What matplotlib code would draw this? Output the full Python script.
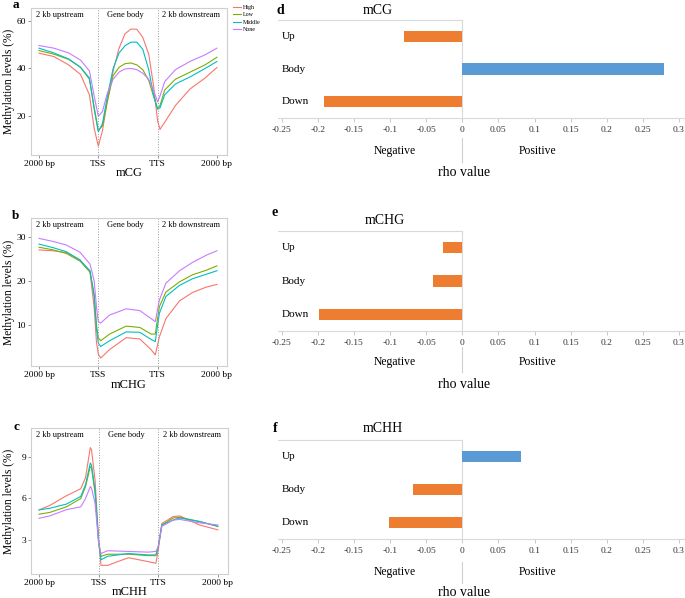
import matplotlib
matplotlib.use('Agg')
import matplotlib.pyplot as plt
import matplotlib.transforms as mtransforms
from matplotlib.lines import Line2D

plt.rcParams['font.family'] = ['Liberation Serif', 'DejaVu Serif']

W, H = 685, 598

# ---- methylation profiles (x: 0 = 2 kb upstream, 100 = TSS, 200 = TTS, 300 = 2 kb downstream)
groups = ['High', 'Low', 'Middle', 'None']
group_colors = ['#F8766D', '#7CAE00', '#00BFC4', '#C77CFF']
region_ticks = [0, 100, 200, 300]
region_labels = ['2000 bp', 'TSS', 'TTS', '2000 bp']
section_names = ['2 kb upstream', 'Gene body', '2 kb downstream']
section_pos = [35, 146, 256]

cg_pos = [0, 25, 50, 70, 85, 93, 100, 107, 115, 125, 135, 145, 155, 165, 175, 185, 193, 200, 204, 212, 230, 255, 280, 300]
cg_high = [46.4, 45.0, 41.5, 37.5, 29.0, 15.0, 7.5, 14.0, 26.0, 39.0, 48.5, 54.5, 56.5, 56.4, 53.0, 46.0, 33.0, 18.0, 14.5, 17.5, 24.5, 31.5, 36.0, 40.4]
cg_low = [47.5, 46.0, 43.8, 40.5, 35.5, 24.0, 14.0, 16.0, 26.0, 37.0, 40.5, 42.0, 42.3, 41.5, 39.5, 35.0, 28.5, 23.0, 24.5, 31.0, 35.5, 38.5, 41.5, 44.7]
cg_middle = [48.5, 46.5, 44.0, 40.5, 36.0, 23.0, 13.5, 17.0, 28.0, 40.0, 46.5, 49.5, 51.0, 51.0, 48.0, 39.5, 29.0, 23.0, 23.5, 29.0, 33.5, 36.5, 40.0, 42.9]
cg_none = [49.6, 48.5, 46.5, 43.5, 39.0, 28.5, 20.0, 22.0, 29.5, 35.5, 38.5, 39.8, 40.0, 39.5, 38.0, 35.5, 31.0, 26.0, 28.5, 34.5, 39.5, 43.0, 45.7, 48.5]

chg_pos = [0, 24, 46, 69, 86, 93, 97, 100, 104, 119, 147, 170, 189, 196, 203, 214, 237, 259, 282, 300]
chg_high = [27.0, 26.8, 26.4, 24.8, 22.0, 14.0, 6.0, 3.5, 2.6, 4.5, 7.2, 6.9, 4.5, 3.3, 7.4, 11.5, 15.5, 17.4, 18.6, 19.2]
chg_low = [27.6, 27.0, 26.2, 24.5, 22.0, 17.0, 10.0, 7.2, 6.5, 8.0, 9.8, 9.5, 8.0, 8.0, 14.2, 17.5, 19.8, 21.4, 22.4, 23.4]
chg_middle = [28.3, 27.5, 26.6, 24.7, 22.3, 16.5, 9.0, 6.0, 5.2, 6.5, 8.5, 8.4, 6.8, 6.3, 12.7, 16.5, 19.0, 20.5, 21.5, 22.3]
chg_none = [29.6, 28.9, 28.1, 26.5, 23.8, 20.0, 14.0, 10.8, 10.5, 12.3, 13.7, 13.3, 11.5, 10.8, 15.7, 19.5, 22.3, 24.2, 25.8, 26.8]

chh_pos = [0, 18, 46, 70, 78, 86, 88, 94, 100, 104, 115, 150, 183, 196, 200, 206, 225, 236, 269, 300]
chh_high = [5.18, 5.5, 6.2, 6.7, 7.5, 9.65, 9.5, 7.3, 3.0, 1.2, 1.2, 1.75, 1.47, 1.35, 2.3, 4.2, 4.7, 4.75, 4.1, 3.75]
chh_low = [4.87, 5.0, 5.4, 6.0, 6.85, 8.3, 8.2, 6.4, 2.9, 1.85, 2.0, 2.0, 1.9, 1.9, 2.55, 4.1, 4.6, 4.65, 4.35, 4.0]
chh_middle = [5.18, 5.3, 5.6, 6.15, 7.0, 8.55, 8.4, 6.6, 2.8, 1.6, 1.85, 2.05, 1.95, 1.95, 2.55, 4.1, 4.45, 4.6, 4.35, 4.0]
chh_none = [4.58, 4.75, 5.2, 5.4, 6.0, 6.85, 6.75, 5.65, 2.8, 2.05, 2.25, 2.2, 2.15, 2.2, 2.55, 4.0, 4.45, 4.5, 4.25, 4.1]

# ---- rho values
categories = ['Up', 'Body', 'Down']
rho_cg = [-0.080, 0.279, -0.191]
rho_chg = [-0.027, -0.041, -0.198]
rho_chh = [0.081, -0.068, -0.101]
rho_ticks = [-0.25, -0.2, -0.15, -0.1, -0.05, 0, 0.05, 0.1, 0.15, 0.2, 0.25, 0.3]

POS_COLOR = '#5B9BD5'
NEG_COLOR = '#ED7D31'


def px_box(left, top, right, bottom):
    return [left / W, 1 - bottom / H, (right - left) / W, (bottom - top) / H]


def fx(x):
    return x / W


def fy(y):
    return 1 - y / H


fig = plt.figure(figsize=(W / 100, H / 100), dpi=100)


def draw_profile(box, pos, series, ylim, yticks, xlabel, letter, letter_y, xlabel_y):
    ax = fig.add_axes(px_box(*box))
    for vals, c, g in zip(series, group_colors, groups):
        ax.plot(pos, vals, color=c, lw=0.8, label=g)
    for v in (100, 200):
        ax.axvline(v, color='#9a9a9a', ls=':', lw=0.7)
    ax.set_xlim(-13.5, 317)
    ax.set_ylim(*ylim)
    ax.set_xticks(region_ticks, region_labels)
    ax.set_yticks(yticks, [str(t) for t in yticks])
    ax.tick_params(labelsize=6.8, length=2.5, width=0.5, color='#666666', pad=1.0)
    for s in ax.spines.values():
        s.set_color('#cfcfcf')
        s.set_linewidth(0.8)
    for x, t in zip(section_pos, section_names):
        ax.text(x, 0.953, t, transform=ax.get_xaxis_transform(), ha='center', va='center', fontsize=6)
    cy = (box[1] + box[3]) / 2
    fig.text(fx(9.5), fy(cy), 'Methylation levels (%)', rotation=90, ha='center', va='center', fontsize=8.3)
    fig.text(fx((box[0] + box[2]) / 2), fy(xlabel_y), xlabel, ha='center', va='center', fontsize=9)
    fig.text(fx(16), fy(letter_y), letter, ha='center', va='center', fontsize=9.5, fontweight='bold')
    return ax


ax_a = draw_profile((31, 8, 227, 155), cg_pos, [cg_high, cg_low, cg_middle, cg_none],
                    (3.8, 65.3), [20, 40, 60], 'mCG', 'a', 5, 173)
draw_profile((31, 218, 227, 366), chg_pos, [chg_high, chg_low, chg_middle, chg_none],
             (0.8, 34.2), [10, 20, 30], 'mCHG', 'b', 216, 385)
draw_profile((31, 428, 228, 574), chh_pos, [chh_high, chh_low, chh_middle, chh_none],
             (0.58, 11.06), [3, 6, 9], 'mCHH', 'c', 427, 592)

ax_a.legend(loc='upper left', bbox_to_anchor=(fx(233), fy(5)), bbox_transform=fig.transFigure,
            fontsize=4.3, frameon=False, handlelength=1.4, handletextpad=0.2,
            labelspacing=0.35, borderpad=0, borderaxespad=0)

XMIN, XMAX = -0.2551, 0.3083


def draw_rho(box, values, title, title_xy, letter, letter_xy, negpos_y, rho_y, sep):
    ax = fig.add_axes(px_box(*box))
    ypos = list(range(len(categories)))[::-1]
    colors = [POS_COLOR if v > 0 else NEG_COLOR for v in values]
    ax.barh(ypos, values, height=0.34, color=colors, zorder=3)
    ax.set_xlim(XMIN, XMAX)
    ax.set_ylim(-0.5, len(categories) - 0.5)
    ax.set_xticks(rho_ticks, ['%g' % t for t in rho_ticks])
    ax.set_yticks([])
    ax.axvline(0, color='#d9d9d9', lw=0.8, zorder=2)
    for side in ('left', 'right'):
        ax.spines[side].set_visible(False)
    ax.spines['top'].set_bounds(XMIN, 0)
    for side in ('top', 'bottom'):
        ax.spines[side].set_color('#d9d9d9')
        ax.spines[side].set_linewidth(0.8)
    ax.tick_params(axis='x', length=3, width=0.6, color='#bfbfbf', labelsize=6.8, pad=2.5,
                   labelcolor='#333333')
    for y, c in zip(ypos, categories):
        ax.text(0.01, y, c, transform=ax.get_yaxis_transform(), ha='left', va='center', fontsize=8)
    fig.text(fx(title_xy[0]), fy(title_xy[1]), title, ha='center', va='center', fontsize=10)
    fig.text(fx(letter_xy[0]), fy(letter_xy[1]), letter, ha='center', va='center', fontsize=10,
             fontweight='bold')
    fig.text(fx(395), fy(negpos_y), 'Negative', ha='center', va='center', fontsize=8.4)
    fig.text(fx(538), fy(negpos_y), 'Positive', ha='center', va='center', fontsize=8.4)
    fig.text(fx(464), fy(rho_y), 'rho value', ha='center', va='center', fontsize=10)
    tr = mtransforms.blended_transform_factory(ax.transData, fig.transFigure)
    fig.add_artist(Line2D([0, 0], [fy(sep[0]), fy(sep[1])], transform=tr, color='#cfcfcf', lw=0.8))
    return ax


draw_rho((278, 20, 685, 118), rho_cg, 'mCG', (378, 10), 'd', (280, 10), 151, 172, (138, 162))
draw_rho((278, 231, 685, 331), rho_chg, 'mCHG', (385, 221), 'e', (275, 213), 362, 385, (347, 372))
draw_rho((278, 440, 685, 539), rho_chh, 'mCHH', (383, 429), 'f', (275, 429), 572, 592, (562, 583))

fig.savefig('out.png', dpi=100)
